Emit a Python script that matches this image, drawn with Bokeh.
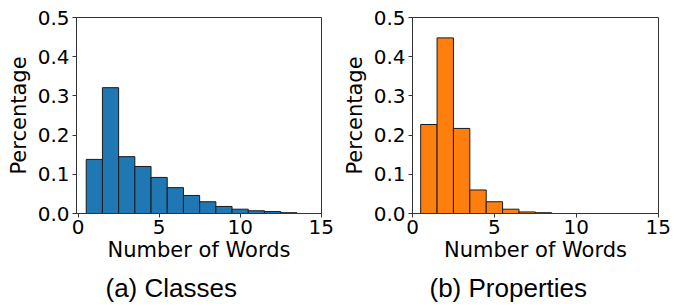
from bokeh.plotting import figure
from bokeh.layouts import row
from bokeh.models import Title, Range1d, FixedTicker, CustomJSTickFormatter
from bokeh.embed import file_html
from bokeh.resources import INLINE

# Data: number of words per label (histogram bins centred on integers)
class_words = [1, 2, 3, 4, 5, 6, 7, 8, 9, 10, 11, 12, 13]
class_pct = [0.138, 0.321, 0.145, 0.120, 0.092, 0.066, 0.046, 0.030, 0.018, 0.011, 0.007, 0.005, 0.002]

prop_words = [1, 2, 3, 4, 5, 6, 7, 8]
prop_pct = [0.227, 0.448, 0.217, 0.060, 0.030, 0.011, 0.004, 0.002]

x_ticks = [0, 5, 10, 15]
y_ticks = [0.0, 0.1, 0.2, 0.3, 0.4, 0.5]

TICK_FONT = "DejaVu Sans"
CAP_FONT = "Liberation Sans"


def make(words, pct, color, caption, xstart, left, width, right, cap_off):
    p = figure(output_backend="svg", toolbar_location=None,
               frame_width=width, frame_height=196,
               min_border_left=left, min_border_right=right,
               min_border_top=17, min_border_bottom=0,
               x_range=Range1d(xstart, 15.02), y_range=Range1d(0, 0.5))
    p.vbar(x=words, top=pct, width=1.0, fill_color=color,
           line_color="#1a1a1a", line_width=1)
    p.xaxis.ticker = FixedTicker(ticks=x_ticks)
    p.yaxis.ticker = FixedTicker(ticks=y_ticks)
    p.yaxis.formatter = CustomJSTickFormatter(code="return tick.toFixed(1)")
    p.xgrid.visible = False
    p.ygrid.visible = False
    p.outline_line_color = "#333333"
    p.outline_line_width = 1
    for ax in (p.xaxis[0], p.yaxis[0]):
        ax.axis_line_color = "#333333"
        ax.major_tick_line_color = "#333333"
        ax.major_tick_out = 4
        ax.major_tick_in = 0
        ax.minor_tick_line_color = None
        ax.major_label_text_font = TICK_FONT
        ax.major_label_text_font_size = "20px"
        ax.major_label_text_color = "black"
        ax.axis_label_text_font = TICK_FONT
        ax.axis_label_text_font_size = "21px"
        ax.axis_label_text_font_style = "normal"
        ax.axis_label_text_color = "black"
    p.xaxis.axis_label = "Number of Words"
    p.yaxis.axis_label = "Percentage"
    p.xaxis.major_label_standoff = 2
    p.xaxis.axis_label_standoff = 1
    p.yaxis.major_label_standoff = 3
    p.yaxis.axis_label_standoff = 4
    t = Title(text=caption, align="left", offset=cap_off,
              text_font=CAP_FONT, text_font_size="26px",
              text_font_style="normal", text_color="black", standoff=12)
    p.add_layout(t, "below")
    return p


p1 = make(class_words, class_pct, "#1f77b4", "(a) Classes", -0.1, 76, 245, 18, 29)
p2 = make(prop_words, prop_pct, "#ff7f0e", "(b) Properties", 0.0, 70, 246, 24, 17)

layout = row(p1, p2)
open("out.html", "w").write(file_html(layout, INLINE))
